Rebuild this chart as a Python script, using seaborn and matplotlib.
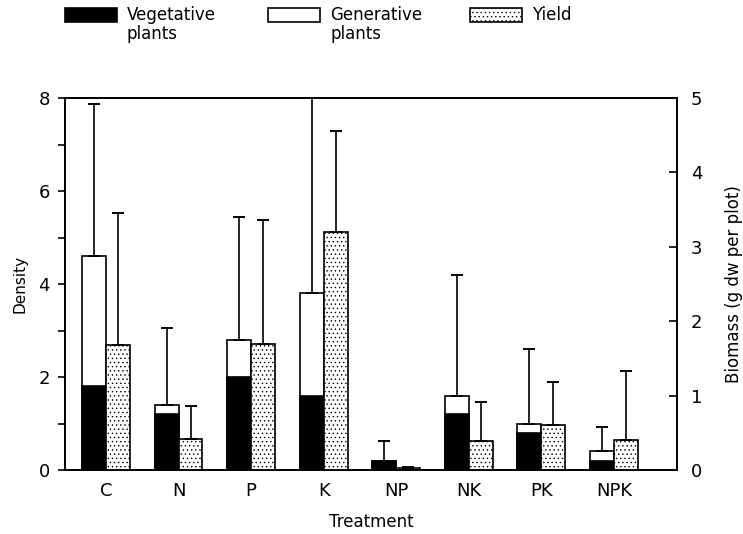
import numpy as np
import pandas as pd
import matplotlib
matplotlib.use("Agg")
import matplotlib.pyplot as plt
from matplotlib.patches import Rectangle
import seaborn as sns

treatments = ["C", "N", "P", "K", "NP", "NK", "PK", "NPK"]
# density (left axis): vegetative part and total (vegetative + generative)
vegetative = [1.8, 1.2, 2.0, 1.6, 0.2, 1.2, 0.8, 0.2]
total_density = [4.6, 1.4, 2.8, 3.8, 0.2, 1.6, 1.0, 0.4]
density_err_top = [7.88, 3.05, 5.45, 9.0, 0.63, 4.2, 2.6, 0.92]
# yield (right axis), g dw per plot
yield_biomass = [1.68, 0.42, 1.69, 3.2, 0.03, 0.39, 0.6, 0.4]
yield_err_top = [3.45, 0.86, 3.36, 4.55, 0.045, 0.92, 1.18, 1.33]

sns.set_theme(style="ticks")
plt.rcParams["font.family"] = ["DejaVu Sans"]
plt.rcParams["hatch.linewidth"] = 0.5
plt.rcParams["text.color"] = "black"
plt.rcParams["axes.labelcolor"] = "black"
plt.rcParams["xtick.color"] = "black"
plt.rcParams["ytick.color"] = "black"

df_dens = pd.DataFrame({"treatment": treatments, "veg": vegetative,
                        "total": total_density, "series": "Density"})
df_yield = pd.DataFrame({"treatment": treatments, "yield": yield_biomass,
                         "series": "Yield"})
hue_order = ["Density", "Yield"]

fig = plt.figure(figsize=(7.43, 5.34), dpi=100)
ax = fig.add_axes([65 / 743, 1 - 470 / 534, 612 / 743, 372 / 534])

sns.barplot(data=df_dens, x="treatment", y="total", hue="series", hue_order=hue_order,
            palette={"Density": "white", "Yield": "white"}, order=treatments,
            width=0.66, dodge=True, edgecolor="black", linewidth=1.2,
            saturation=1, errorbar=None, legend=False, ax=ax)
sns.barplot(data=df_dens, x="treatment", y="veg", hue="series", hue_order=hue_order,
            palette={"Density": "black", "Yield": "black"}, order=treatments,
            width=0.66, dodge=True, edgecolor="black", linewidth=1.2,
            saturation=1, errorbar=None, legend=False, ax=ax)

xc = [p.get_x() + p.get_width() / 2 for p in ax.patches[:8]]
up = np.array(density_err_top) - np.array(total_density)
ax.errorbar(xc, total_density, yerr=[np.zeros(8), up], fmt="none", ecolor="black",
            elinewidth=1.2, capsize=4, capthick=1.4, zorder=1)

ax2 = ax.twinx()
sns.barplot(data=df_yield, x="treatment", y="yield", hue="series", hue_order=hue_order,
            palette={"Density": "white", "Yield": "white"}, order=treatments,
            width=0.66, dodge=True, edgecolor="black", linewidth=1.2,
            saturation=1, errorbar=None, legend=False, ax=ax2)
for p in ax2.patches:
    p.set_hatch("....")
xc2 = [p.get_x() + p.get_width() / 2 for p in ax2.patches[:8]]
up2 = np.array(yield_err_top) - np.array(yield_biomass)
ax2.errorbar(xc2, yield_biomass, yerr=[np.zeros(8), up2], fmt="none", ecolor="black",
             elinewidth=1.2, capsize=4, capthick=1.4, zorder=1)

ax.set_ylim(0, 8)
ax2.set_ylim(0, 5)
ax.set_xlim(-0.565, 7.87)
ax2.set_xlim(-0.565, 7.87)

ax.set_yticks([0, 2, 4, 6, 8])
ax.set_yticks([1, 3, 5, 7], minor=True)
ax.tick_params(axis="y", which="both", direction="out", length=5, width=1.2,
               labelsize=13, pad=6)
ax.tick_params(axis="x", length=0, labelsize=13, pad=9)
ax2.set_yticks([0, 1, 2, 3, 4, 5])
ax2.tick_params(axis="y", direction="in", length=6, width=1.2, labelsize=13, pad=10)
ax2.tick_params(axis="x", length=0)

for a in (ax, ax2):
    for s in a.spines.values():
        s.set_visible(True)
        s.set_linewidth(1.2)
        s.set_color("black")

ax.set_xlabel("Treatment", fontsize=12, labelpad=9)
ax.set_ylabel("Density", fontsize=11, labelpad=8)
ax2.set_ylabel("Biomass (g dw per plot)", fontsize=12, labelpad=16)

# legend drawn at the top of the figure
W, H = 743, 534
items = [(65, "black", None, "Vegetative\nplants"),
         (268, "white", None, "Generative\nplants"),
         (470, "white", "....", "Yield")]
for x0, fc, hatch, label in items:
    fig.patches.append(Rectangle((x0 / W, 1 - 22 / H), 52 / W, 14 / H, transform=fig.transFigure,
                                 facecolor=fc, edgecolor="black", linewidth=1.2, hatch=hatch))
    fig.text((x0 + 62) / W, 1 - 6 / H, label, fontsize=12, va="top", ha="left",
             linespacing=1.1)

fig.savefig("out.png", dpi=100)
